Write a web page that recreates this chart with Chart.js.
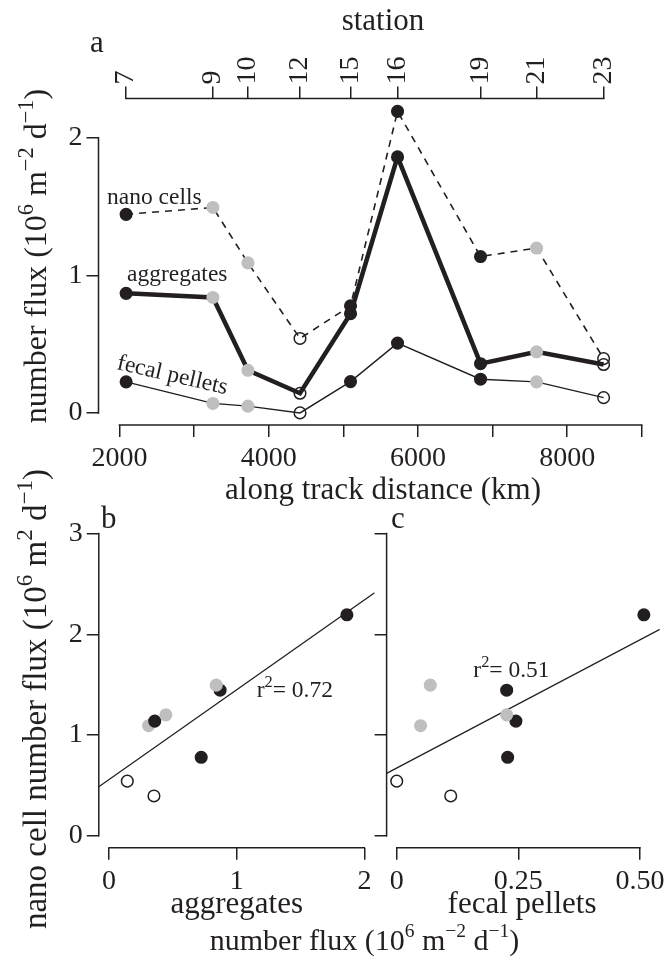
<!DOCTYPE html>
<html><head><meta charset="utf-8">
<script src="https://cdn.jsdelivr.net/npm/chart.js@4.4.1/dist/chart.umd.min.js"></script>
<style>
html,body{margin:0;padding:0;background:#fff;}
#wrap{position:relative;width:670px;height:962px;overflow:hidden;background:#fff;}
canvas{position:absolute;left:0;}
</style></head><body>
<div id="wrap">
<canvas id="ca" width="670" height="530" style="top:0;width:670px;height:530px"></canvas>
<canvas id="cb" width="670" height="522" style="top:440px;width:670px;height:522px"></canvas>
<canvas id="cc" width="670" height="522" style="top:440px;width:670px;height:522px"></canvas>
</div>
<script>
// ---------------- data ----------------
const stations      = ["7","9","10","12","15","16","19","21","23"];
const distanceKm    = [2090, 3253, 3722, 4420, 5097, 5727, 6839, 7590, 8488];
const nanoCells     = [1.445, 1.495, 1.092, 0.542, 0.779, 2.194, 1.138, 1.200, 0.395];
const aggregates    = [0.870, 0.840, 0.310, 0.143, 0.722, 1.863, 0.358, 0.445, 0.352];
const fecalPellets  = [0.226, 0.069, 0.049, 0.000, 0.228, 0.508, 0.245, 0.226, 0.111];
const stationGroup  = ["filled","grey","grey","open","filled","filled","filled","grey","open"];

const distanceTicks      = [2000, 3000, 4000, 5000, 6000, 7000, 8000, 9000];
const distanceTickLabels = ["2000", "", "4000", "", "6000", "", "8000", ""];
const fluxTicksA         = [0, 1, 2];
const nanoTicks          = [0, 1, 2, 3];
const aggTicks           = [0, 1, 2];
const aggTickLabels      = ["0", "1", "2"];
const fecalTicks         = [0, 0.25, 0.5];
const fecalTickLabels    = ["0", "0.25", "0.50"];

const limDistance = [2000, 9000];
const limFluxA    = [0, 2.2];
const limNano     = [0, 3];
const limAgg      = [0, 2];
const limFecal    = [0, 0.52];

const r2LabelB = "r^{2}= 0.72";
const r2LabelC = "r^{2}= 0.51";

// ---------------- style ----------------
const INK = "#231f20", GREY = "#bfbfbf";
const FONT = "'Liberation Serif','Times New Roman',Times,serif";
const TICK_SIZE = 28, TITLE_SIZE = 31, NOTE_SIZE = 23.5;

function ext(l){ const d = (l[1]-l[0])*0.04; return [l[0]-d, l[1]+d]; }
function fillOf(g){ return g==="filled" ? INK : g==="grey" ? GREY : "rgba(0,0,0,0)"; }
function edgeOf(g){ return g==="grey" ? GREY : INK; }
const ptFill = stationGroup.map(fillOf), ptEdge = stationGroup.map(edgeOf);

function parseRich(s){
  const out = []; const re = /\^\{([^}]*)\}/g; let last = 0, m;
  while ((m = re.exec(s))){ if (m.index>last) out.push({t:s.slice(last,m.index)}); out.push({t:m[1],sup:true}); last = re.lastIndex; }
  if (last < s.length) out.push({t:s.slice(last)});
  return out;
}
function drawRich(ctx, str, x, y, size, align, rot, supScale){
  const segs = parseRich(str);
  ctx.save(); ctx.translate(x,y); if (rot) ctx.rotate(rot);
  ctx.fillStyle = INK; ctx.textBaseline = "alphabetic"; ctx.textAlign = "left";
  const sup = size*(supScale||0.7); let w = 0;
  const ws = segs.map(s=>{ ctx.font = (s.sup?sup:size)+"px "+FONT; const m = ctx.measureText(s.t).width; w+=m; return m; });
  let cx = align==="center" ? -w/2 : align==="right" ? -w : 0;
  segs.forEach((s,i)=>{ ctx.font = (s.sup?sup:size)+"px "+FONT; ctx.fillText(s.t, cx, s.sup ? -size*0.42 : 0); cx += ws[i]; });
  ctx.restore();
}
function axisLine(chart, id){
  const s = chart.scales[id], a = chart.chartArea, ctx = chart.ctx;
  const v = s.ticks.map(t=>t.value);
  const p0 = s.getPixelForValue(v[0]), p1 = s.getPixelForValue(v[v.length-1]);
  ctx.save(); ctx.strokeStyle = INK; ctx.lineWidth = 1.5; ctx.lineCap = "square"; ctx.beginPath();
  if (s.isHorizontal()){ const y = s.position==="top" ? a.top : a.bottom; ctx.moveTo(p0,y); ctx.lineTo(p1,y); }
  else { ctx.moveTo(a.left,p0); ctx.lineTo(a.left,p1); }
  ctx.stroke(); ctx.restore();
}
function linfit(xs, ys){
  const n = xs.length, mx = xs.reduce((a,b)=>a+b,0)/n, my = ys.reduce((a,b)=>a+b,0)/n;
  let sxy=0, sxx=0; for (let i=0;i<n;i++){ sxy += (xs[i]-mx)*(ys[i]-my); sxx += (xs[i]-mx)**2; }
  const b = sxy/sxx; return {a: my-b*mx, b};
}
function gridOpts(){ return {drawOnChartArea:false, drawTicks:true, tickLength:12, color:INK, lineWidth:1.5}; }
function tickFont(){ return {family:FONT, size:TICK_SIZE}; }
function fixedTicks(vals){ return s => { s.ticks = vals.map(v=>({value:v})); }; }

Chart.defaults.font.family = FONT;
Chart.defaults.color = INK;

const common = {
  responsive:false, animation:false, devicePixelRatio:1,
  plugins:{legend:{display:false}, tooltip:{enabled:false}, title:{display:false}},
  events:[]
};

// ---------------- panel a ----------------
const xA = ext(limDistance), yA = ext(limFluxA);
const seriesA = (vals)=> distanceKm.map((d,i)=>({x:d, y:vals[i]}));
const ptStyle = {pointRadius:5.8, pointBorderWidth:1.5, pointBackgroundColor:ptFill, pointBorderColor:ptEdge, pointHoverRadius:5.8};

new Chart(document.getElementById("ca"), {
  type:"line",
  data:{ datasets:[
    Object.assign({label:"nano cells", data:seriesA(nanoCells), borderColor:INK, borderWidth:1.6, borderDash:[7,6], order:2}, ptStyle),
    Object.assign({label:"aggregates", data:seriesA(aggregates), borderColor:INK, borderWidth:4.5, order:1}, ptStyle),
    Object.assign({label:"fecal pellets", data:seriesA(fecalPellets), borderColor:INK, borderWidth:1.4, order:0}, ptStyle)
  ]},
  options: Object.assign({}, common, {
    layout:{padding:{left:0, right:7, top:0, bottom:0}},
    scales:{
      x:{type:"linear", position:"bottom", min:xA[0], max:xA[1],
         afterBuildTicks: fixedTicks(distanceTicks), afterFit: s=>{ s.height = 105; },
         grid:gridOpts(), border:{display:false},
         ticks:{font:tickFont(), color:INK, padding:5, autoSkip:false, maxRotation:0, minRotation:0,
                callback:(v,i)=>distanceTickLabels[i]}},
      xStation:{type:"linear", position:"top", min:xA[0], max:xA[1],
         afterBuildTicks: fixedTicks(distanceKm), afterFit: s=>{ s.height = 98.5; },
         grid:gridOpts(), border:{display:false},
         ticks:{font:tickFont(), color:INK, padding:2, autoSkip:false, maxRotation:90, minRotation:90,
                labelOffset: TICK_SIZE*1.2, callback:(v,i)=>stations[i]}},
      y:{type:"linear", position:"left", min:yA[0], max:yA[1],
         afterBuildTicks: fixedTicks(fluxTicksA), afterFit: s=>{ s.width = 98.5; },
         grid:gridOpts(), border:{display:false},
         ticks:{font:tickFont(), color:INK, padding:4, autoSkip:false, callback:(v)=>String(v)}}
    }
  }),
  plugins:[{id:"decorA", afterDraw(chart){
    const ctx = chart.ctx;
    axisLine(chart,"x"); axisLine(chart,"xStation"); axisLine(chart,"y");
    drawRich(ctx, "station", 383, 30, TITLE_SIZE, "center");
    drawRich(ctx, "along track distance (km)", 383, 499, TITLE_SIZE, "center");
    drawRich(ctx, "number flux (10^{6} m^{\u22122} d^{\u22121})", 46, 256, 32, "center", -Math.PI/2);
    drawRich(ctx, "a", 90, 52, TITLE_SIZE, "left");
    drawRich(ctx, "nano cells", 107, 204, NOTE_SIZE, "left");
    drawRich(ctx, "aggregates", 127, 281, NOTE_SIZE, "left");
    drawRich(ctx, "fecal pellets", 116, 369, NOTE_SIZE, "left", 13*Math.PI/180);
  }}]
});

// ---------------- panels b, c ----------------
const yN = ext(limNano);
const TOP_BC = 440;
function scatterChart(id, xs, xLim, xTicks, xLabels, showY, pad, yWidth, r2, r2x, r2y, letter, letterX, extra){
  const xR = ext(xLim);
  const fit = linfit(xs, nanoCells);
  return new Chart(document.getElementById(id), {
    type:"scatter",
    data:{ datasets:[
      {type:"line", label:"fit", data:[{x:xR[0], y:fit.a+fit.b*xR[0]}, {x:xR[1], y:fit.a+fit.b*xR[1]}],
       borderColor:INK, borderWidth:1.3, pointRadius:0, order:1},
      Object.assign({label:"stations", data:xs.map((x,i)=>({x, y:nanoCells[i]})), order:0}, ptStyle)
    ]},
    options:Object.assign({}, common, {
      layout:{padding:pad},
      scales:{
        x:{type:"linear", position:"bottom", min:xR[0], max:xR[1],
           afterBuildTicks: fixedTicks(xTicks), afterFit: s=>{ s.height = 114.2; },
           grid:gridOpts(), border:{display:false},
           ticks:{font:tickFont(), color:INK, padding:5, autoSkip:false, maxRotation:0, minRotation:0,
                  callback:(v,i)=>xLabels[i]}},
        y:{type:"linear", position:"left", min:yN[0], max:yN[1],
           afterBuildTicks: fixedTicks(nanoTicks), afterFit: s=>{ s.width = yWidth; },
           grid:gridOpts(), border:{display:false},
           ticks:{display:showY, font:tickFont(), color:INK, padding:4, autoSkip:false, callback:(v)=>String(v)}}
      }
    }),
    plugins:[{id:"decor"+id, afterDraw(chart){
      const ctx = chart.ctx;
      axisLine(chart,"x"); axisLine(chart,"y");
      drawRich(ctx, r2, r2x, r2y - TOP_BC, NOTE_SIZE, "left");
      drawRich(ctx, letter, letterX, 528 - TOP_BC, TITLE_SIZE, "left");
      if (extra) extra(ctx);
    }}]
  });
}
scatterChart("cb", aggregates, limAgg, aggTicks, aggTickLabels, true,
  {left:0, right:295.4, top:521.5-TOP_BC, bottom:0}, 98.8, r2LabelB, 256.7, 697.3, "b", 101,
  ctx=>{
    drawRich(ctx, "aggregates", 236.7, 913-TOP_BC, TITLE_SIZE, "center");
    drawRich(ctx, "number flux (10^{6} m^{\u22122} d^{\u22121})", 364.5, 950-TOP_BC, 30, "center", 0, 0.65);
    drawRich(ctx, "nano cell number flux (10^{6} m^{2} d^{\u22121})", 46, 699-TOP_BC, 33, "center", -Math.PI/2);
  });
scatterChart("cc", fecalPellets, limFecal, fecalTicks, fecalTickLabels, false,
  {left:300, right:7.2, top:521.5-TOP_BC, bottom:0}, 86.6, r2LabelC, 473.3, 676.7, "c", 391,
  ctx=>{
    drawRich(ctx, "fecal pellets", 522, 913-TOP_BC, TITLE_SIZE, "center");
  });
</script>
</body></html>
